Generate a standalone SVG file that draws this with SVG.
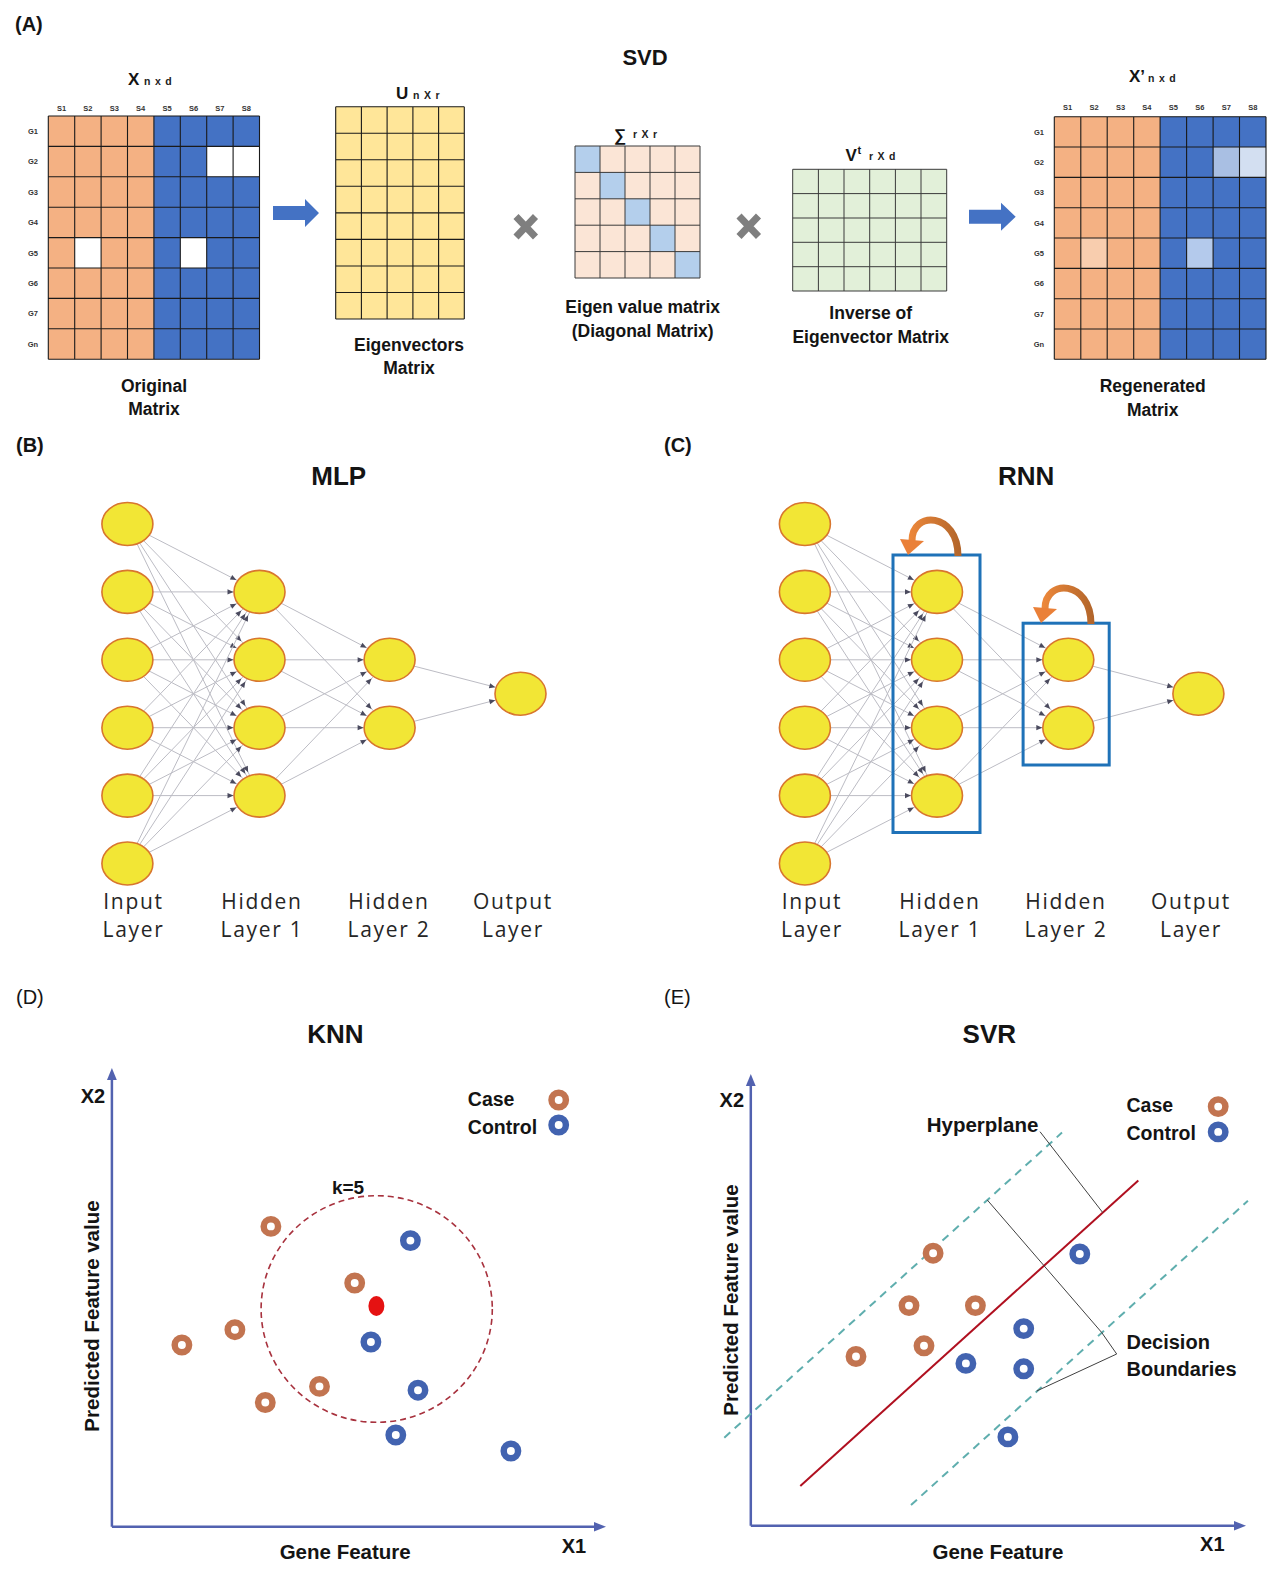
<svg xmlns="http://www.w3.org/2000/svg" width="1280" height="1581" viewBox="0 0 1280 1581">
<style>
.b{font-family:"Liberation Sans",Arial,sans-serif;font-weight:bold;fill:#141414}
.m{text-anchor:middle}
.t17{font-size:17.5px}
.tiny{font-family:"Liberation Sans",Arial,sans-serif;font-weight:bold;font-size:7.5px;fill:#333;text-anchor:middle}
.sub{font-family:"Liberation Sans",Arial,sans-serif;font-weight:bold;font-size:10.5px;fill:#222;letter-spacing:0.8px}
.layer{font-family:"Open Sans","Noto Sans",sans-serif;font-size:21px;letter-spacing:1.7px;fill:#262626;text-anchor:middle}
.grid{fill:none;stroke:#1a1a1a;stroke-width:1.1}
.grid2{fill:none;stroke:#3a3a3a;stroke-width:1}
.node{fill:#F2E635;stroke:#D8762E;stroke-width:1.6}
.edge{stroke:#BCBCC4;stroke-width:1;marker-end:url(#ah)}
.case{fill:#fff;stroke:#C27450;stroke-width:6.5}
.ctrl{fill:#fff;stroke:#4263B0;stroke-width:6.5}
.axis{stroke:#5262B0;stroke-width:2.5;fill:none}
.axh{fill:#5262B0}
.box{fill:none;stroke:#1F72B8;stroke-width:3}
.lead{stroke:#404040;stroke-width:1;fill:none}
.mult{stroke:#7F7F7F;stroke-width:7}
</style>
<defs>
<marker id="ah" markerUnits="userSpaceOnUse" orient="auto" overflow="visible" refX="0" refY="0" markerWidth="1" markerHeight="1">
<path d="M-32,-2.6 L-26,0 L-32,2.6 z" fill="#4a4a5e"/>
</marker>
<linearGradient id="og" gradientUnits="userSpaceOnUse" x1="905" y1="0" x2="962" y2="0">
<stop offset="0" stop-color="#F28B3C"/>
<stop offset="1" stop-color="#B0642A"/>
</linearGradient>
</defs>
<rect width="1280" height="1581" fill="#fff"/>

<!-- Panel A -->
<g id="panelA">
<text class="b" x="15" y="31" font-size="20">(A)</text>
<text class="b m" x="645" y="65" font-size="22">SVD</text>

<g id="matrixX">
<text class="b" x="128" y="85" font-size="17">X</text>
<text class="sub" x="144" y="85">n x d</text>
<rect x="48.3" y="116" width="105.6" height="243.2" fill="#F4B183"/>
<rect x="153.9" y="116" width="105.6" height="243.2" fill="#4472C4"/>
<rect x="206.7" y="146.4" width="52.8" height="30.4" fill="#fff"/>
<rect x="74.7" y="237.6" width="26.4" height="30.4" fill="#fff"/>
<rect x="180.3" y="237.6" width="26.4" height="30.4" fill="#fff"/>
<path class="grid" d="M48.3,116V359.2M74.7,116V359.2M101.1,116V359.2M127.5,116V359.2M153.9,116V359.2M180.3,116V359.2M206.7,116V359.2M233.1,116V359.2M259.5,116V359.2M48.3,116H259.5M48.3,146.4H259.5M48.3,176.8H259.5M48.3,207.2H259.5M48.3,237.6H259.5M48.3,268H259.5M48.3,298.4H259.5M48.3,328.8H259.5M48.3,359.2H259.5"/>
<g class="tiny">
<text x="61.5" y="111">S1</text><text x="87.9" y="111">S2</text><text x="114.3" y="111">S3</text><text x="140.7" y="111">S4</text><text x="167.1" y="111">S5</text><text x="193.5" y="111">S6</text><text x="219.9" y="111">S7</text><text x="246.3" y="111">S8</text>
<text x="33" y="133.9">G1</text><text x="33" y="164.3">G2</text><text x="33" y="194.7">G3</text><text x="33" y="225.1">G4</text><text x="33" y="255.5">G5</text><text x="33" y="285.9">G6</text><text x="33" y="316.3">G7</text><text x="33" y="346.7">Gn</text>
</g>
<text class="b m t17" x="154" y="392">Original</text>
<text class="b m t17" x="154" y="415">Matrix</text>
</g>

<g id="arrow1"><path d="M273,206H305V199L319,213L305,227V220H273Z" fill="#4472C4"/></g>

<g id="matrixU">
<text class="b" x="396" y="98.7" font-size="17">U</text>
<text class="sub" x="413" y="98.7">n X r</text>
<rect x="335.7" y="106.7" width="128.6" height="212.3" fill="#FFE699"/>
<path class="grid" d="M335.7,106.7V319M361.4,106.7V319M387.1,106.7V319M412.9,106.7V319M438.6,106.7V319M464.3,106.7V319M335.7,106.7H464.3M335.7,133.2H464.3M335.7,159.8H464.3M335.7,186.3H464.3M335.7,212.9H464.3M335.7,239.4H464.3M335.7,266H464.3M335.7,292.5H464.3M335.7,319H464.3"/>
<text class="b m t17" x="409" y="350.5">Eigenvectors</text>
<text class="b m t17" x="409" y="374">Matrix</text>
</g>

<g id="mult1"><path class="mult" d="M516,216.5L535.5,237M535.5,216.5L516,237"/></g>

<g id="matrixS">
<text class="b" x="614" y="141" font-size="17">∑</text>
<text class="sub" x="633" y="137.5">r X r</text>
<rect x="575" y="146" width="125" height="132" fill="#FBE5D6"/>
<rect x="575" y="146" width="25" height="26.4" fill="#B4CFEC"/>
<rect x="600" y="172.4" width="25" height="26.4" fill="#B4CFEC"/>
<rect x="625" y="198.8" width="25" height="26.4" fill="#B4CFEC"/>
<rect x="650" y="225.2" width="25" height="26.4" fill="#B4CFEC"/>
<rect x="675" y="251.6" width="25" height="26.4" fill="#B4CFEC"/>
<path class="grid2" d="M575,146V278M600,146V278M625,146V278M650,146V278M675,146V278M700,146V278M575,146H700M575,172.4H700M575,198.8H700M575,225.2H700M575,251.6H700M575,278H700"/>
<text class="b m t17" x="642.7" y="312.7">Eigen value matrix</text>
<text class="b m t17" x="642.7" y="336.7">(Diagonal Matrix)</text>
</g>

<g id="mult2"><path class="mult" d="M739,216L758.5,236.5M758.5,216L739,236.5"/></g>

<g id="matrixV">
<text class="b" x="845.5" y="161" font-size="17">V</text>
<text class="b" x="857.5" y="154" font-size="11">t</text>
<text class="sub" x="869" y="160">r X d</text>
<rect x="792.7" y="169.3" width="154" height="121.7" fill="#E2F0D9"/>
<path class="grid2" d="M792.7,169.3V291M818.4,169.3V291M844,169.3V291M869.7,169.3V291M895.4,169.3V291M921,169.3V291M946.7,169.3V291M792.7,169.3H946.7M792.7,193.6H946.7M792.7,218H946.7M792.7,242.3H946.7M792.7,266.7H946.7M792.7,291H946.7"/>
<text class="b m t17" x="870.7" y="319.3">Inverse of</text>
<text class="b m t17" x="870.7" y="343.3">Eigenvector Matrix</text>
</g>

<g id="arrow2"><path d="M969,209.7H1001V202.7L1015.7,216.7L1001,230.7V223.7H969Z" fill="#4472C4"/></g>

<g id="matrixXp">
<text class="b" x="1129" y="81.7" font-size="17">X’</text>
<text class="sub" x="1148" y="81.7">n x d</text>
<rect x="1054.3" y="116.7" width="105.8" height="242.6" fill="#F4B183"/>
<rect x="1160.1" y="116.7" width="105.9" height="242.6" fill="#4472C4"/>
<rect x="1213.1" y="147" width="26.4" height="30.4" fill="#A9BFE3"/>
<rect x="1239.5" y="147" width="26.5" height="30.4" fill="#D3DFF1"/>
<rect x="1080.8" y="238" width="26.4" height="30.4" fill="#F8CDAE"/>
<rect x="1186.6" y="238" width="26.5" height="30.4" fill="#B4CAEC"/>
<path class="grid" d="M1054.3,116.7V359.3M1080.8,116.7V359.3M1107.2,116.7V359.3M1133.7,116.7V359.3M1160.1,116.7V359.3M1186.6,116.7V359.3M1213.1,116.7V359.3M1239.5,116.7V359.3M1266,116.7V359.3M1054.3,116.7H1266M1054.3,147H1266M1054.3,177.4H1266M1054.3,207.7H1266M1054.3,238H1266M1054.3,268.4H1266M1054.3,298.7H1266M1054.3,329H1266M1054.3,359.3H1266"/>
<g class="tiny">
<text x="1067.5" y="110">S1</text><text x="1094" y="110">S2</text><text x="1120.5" y="110">S3</text><text x="1146.9" y="110">S4</text><text x="1173.4" y="110">S5</text><text x="1199.8" y="110">S6</text><text x="1226.3" y="110">S7</text><text x="1252.8" y="110">S8</text>
<text x="1039" y="134.6">G1</text><text x="1039" y="164.9">G2</text><text x="1039" y="195.2">G3</text><text x="1039" y="225.6">G4</text><text x="1039" y="255.9">G5</text><text x="1039" y="286.2">G6</text><text x="1039" y="316.6">G7</text><text x="1039" y="346.9">Gn</text>
</g>
<text class="b m t17" x="1152.7" y="392">Regenerated</text>
<text class="b m t17" x="1152.7" y="416">Matrix</text>
</g>
</g>

<!-- Panel B: MLP -->
<text class="b" x="16" y="452" font-size="20">(B)</text>
<text class="b m" x="338.7" y="485" font-size="26">MLP</text>
<g id="mlp-edges">
<line class="edge" x1="127.4" y1="524" x2="259.5" y2="591.9"/><line class="edge" x1="127.4" y1="524" x2="259.5" y2="659.8"/><line class="edge" x1="127.4" y1="524" x2="259.5" y2="727.7"/><line class="edge" x1="127.4" y1="524" x2="259.5" y2="795.6"/>
<line class="edge" x1="127.4" y1="591.9" x2="259.5" y2="591.9"/><line class="edge" x1="127.4" y1="591.9" x2="259.5" y2="659.8"/><line class="edge" x1="127.4" y1="591.9" x2="259.5" y2="727.7"/><line class="edge" x1="127.4" y1="591.9" x2="259.5" y2="795.6"/>
<line class="edge" x1="127.4" y1="659.8" x2="259.5" y2="591.9"/><line class="edge" x1="127.4" y1="659.8" x2="259.5" y2="659.8"/><line class="edge" x1="127.4" y1="659.8" x2="259.5" y2="727.7"/><line class="edge" x1="127.4" y1="659.8" x2="259.5" y2="795.6"/>
<line class="edge" x1="127.4" y1="727.7" x2="259.5" y2="591.9"/><line class="edge" x1="127.4" y1="727.7" x2="259.5" y2="659.8"/><line class="edge" x1="127.4" y1="727.7" x2="259.5" y2="727.7"/><line class="edge" x1="127.4" y1="727.7" x2="259.5" y2="795.6"/>
<line class="edge" x1="127.4" y1="795.6" x2="259.5" y2="591.9"/><line class="edge" x1="127.4" y1="795.6" x2="259.5" y2="659.8"/><line class="edge" x1="127.4" y1="795.6" x2="259.5" y2="727.7"/><line class="edge" x1="127.4" y1="795.6" x2="259.5" y2="795.6"/>
<line class="edge" x1="127.4" y1="863.5" x2="259.5" y2="591.9"/><line class="edge" x1="127.4" y1="863.5" x2="259.5" y2="659.8"/><line class="edge" x1="127.4" y1="863.5" x2="259.5" y2="727.7"/><line class="edge" x1="127.4" y1="863.5" x2="259.5" y2="795.6"/>
<line class="edge" x1="259.5" y1="591.9" x2="389.6" y2="659.8"/><line class="edge" x1="259.5" y1="591.9" x2="389.6" y2="727.7"/>
<line class="edge" x1="259.5" y1="659.8" x2="389.6" y2="659.8"/><line class="edge" x1="259.5" y1="659.8" x2="389.6" y2="727.7"/>
<line class="edge" x1="259.5" y1="727.7" x2="389.6" y2="659.8"/><line class="edge" x1="259.5" y1="727.7" x2="389.6" y2="727.7"/>
<line class="edge" x1="259.5" y1="795.6" x2="389.6" y2="659.8"/><line class="edge" x1="259.5" y1="795.6" x2="389.6" y2="727.7"/>
<line class="edge" x1="389.6" y1="659.8" x2="520.5" y2="693.7"/><line class="edge" x1="389.6" y1="727.7" x2="520.5" y2="693.7"/>
</g>
<g id="mlp-in1"><ellipse class="node" cx="127.4" cy="524" rx="25.5" ry="21.5"/></g>
<g id="mlp-in2"><ellipse class="node" cx="127.4" cy="591.9" rx="25.5" ry="21.5"/></g>
<g id="mlp-in3"><ellipse class="node" cx="127.4" cy="659.8" rx="25.5" ry="21.5"/></g>
<g id="mlp-in4"><ellipse class="node" cx="127.4" cy="727.7" rx="25.5" ry="21.5"/></g>
<g id="mlp-in5"><ellipse class="node" cx="127.4" cy="795.6" rx="25.5" ry="21.5"/></g>
<g id="mlp-in6"><ellipse class="node" cx="127.4" cy="863.5" rx="25.5" ry="21.5"/></g>
<g id="mlp-h1a"><ellipse class="node" cx="259.5" cy="591.9" rx="25.5" ry="21.5"/></g>
<g id="mlp-h1b"><ellipse class="node" cx="259.5" cy="659.8" rx="25.5" ry="21.5"/></g>
<g id="mlp-h1c"><ellipse class="node" cx="259.5" cy="727.7" rx="25.5" ry="21.5"/></g>
<g id="mlp-h1d"><ellipse class="node" cx="259.5" cy="795.6" rx="25.5" ry="21.5"/></g>
<g id="mlp-h2a"><ellipse class="node" cx="389.6" cy="659.8" rx="25.5" ry="21.5"/></g>
<g id="mlp-h2b"><ellipse class="node" cx="389.6" cy="727.7" rx="25.5" ry="21.5"/></g>
<g id="mlp-out"><ellipse class="node" cx="520.5" cy="693.7" rx="25.5" ry="21.5"/></g>
<g id="mlp-labels" class="layer">
<text x="133.5" y="908.5">Input</text><text x="133.5" y="936.5">Layer</text>
<text x="262" y="908.5">Hidden</text><text x="262" y="936.5">Layer 1</text>
<text x="389" y="908.5">Hidden</text><text x="389" y="936.5">Layer 2</text>
<text x="513" y="908.5">Output</text><text x="513" y="936.5">Layer</text>
</g>

<!-- Panel C: RNN -->
<text class="b" x="664" y="452" font-size="20">(C)</text>
<text class="b m" x="1026.2" y="485" font-size="26">RNN</text>
<g id="rnn-edges" transform="translate(677.5,0)">
<line class="edge" x1="127.4" y1="524" x2="259.5" y2="591.9"/><line class="edge" x1="127.4" y1="524" x2="259.5" y2="659.8"/><line class="edge" x1="127.4" y1="524" x2="259.5" y2="727.7"/><line class="edge" x1="127.4" y1="524" x2="259.5" y2="795.6"/>
<line class="edge" x1="127.4" y1="591.9" x2="259.5" y2="591.9"/><line class="edge" x1="127.4" y1="591.9" x2="259.5" y2="659.8"/><line class="edge" x1="127.4" y1="591.9" x2="259.5" y2="727.7"/><line class="edge" x1="127.4" y1="591.9" x2="259.5" y2="795.6"/>
<line class="edge" x1="127.4" y1="659.8" x2="259.5" y2="591.9"/><line class="edge" x1="127.4" y1="659.8" x2="259.5" y2="659.8"/><line class="edge" x1="127.4" y1="659.8" x2="259.5" y2="727.7"/><line class="edge" x1="127.4" y1="659.8" x2="259.5" y2="795.6"/>
<line class="edge" x1="127.4" y1="727.7" x2="259.5" y2="591.9"/><line class="edge" x1="127.4" y1="727.7" x2="259.5" y2="659.8"/><line class="edge" x1="127.4" y1="727.7" x2="259.5" y2="727.7"/><line class="edge" x1="127.4" y1="727.7" x2="259.5" y2="795.6"/>
<line class="edge" x1="127.4" y1="795.6" x2="259.5" y2="591.9"/><line class="edge" x1="127.4" y1="795.6" x2="259.5" y2="659.8"/><line class="edge" x1="127.4" y1="795.6" x2="259.5" y2="727.7"/><line class="edge" x1="127.4" y1="795.6" x2="259.5" y2="795.6"/>
<line class="edge" x1="127.4" y1="863.5" x2="259.5" y2="591.9"/><line class="edge" x1="127.4" y1="863.5" x2="259.5" y2="659.8"/><line class="edge" x1="127.4" y1="863.5" x2="259.5" y2="727.7"/><line class="edge" x1="127.4" y1="863.5" x2="259.5" y2="795.6"/>
<line class="edge" x1="259.5" y1="591.9" x2="390.8" y2="659.8"/><line class="edge" x1="259.5" y1="591.9" x2="390.8" y2="727.7"/>
<line class="edge" x1="259.5" y1="659.8" x2="390.8" y2="659.8"/><line class="edge" x1="259.5" y1="659.8" x2="390.8" y2="727.7"/>
<line class="edge" x1="259.5" y1="727.7" x2="390.8" y2="659.8"/><line class="edge" x1="259.5" y1="727.7" x2="390.8" y2="727.7"/>
<line class="edge" x1="259.5" y1="795.6" x2="390.8" y2="659.8"/><line class="edge" x1="259.5" y1="795.6" x2="390.8" y2="727.7"/>
<line class="edge" x1="390.8" y1="659.8" x2="520.9" y2="693.7"/><line class="edge" x1="390.8" y1="727.7" x2="520.9" y2="693.7"/>
</g>
<g id="rnn-box1"><rect class="box" x="893" y="555" width="87" height="277.5"/></g>
<g id="rnn-box2"><rect class="box" x="1023.1" y="623.2" width="86.1" height="141.8"/></g>
<g id="rnn-loop1">
<path d="M958,556 C958,512 912,510 912,541" fill="none" stroke="url(#og)" stroke-width="7"/>
<polygon points="900,539 924,541 908,555" fill="#EA8038"/>
</g>
<g id="rnn-loop2" transform="translate(133,68)">
<path d="M958,556 C958,512 912,510 912,541" fill="none" stroke="url(#og)" stroke-width="7"/>
<polygon points="900,539 924,541 908,555" fill="#EA8038"/>
</g>
<g id="rnn-in1"><ellipse class="node" cx="804.9" cy="524" rx="25.5" ry="21.5"/></g>
<g id="rnn-in2"><ellipse class="node" cx="804.9" cy="591.9" rx="25.5" ry="21.5"/></g>
<g id="rnn-in3"><ellipse class="node" cx="804.9" cy="659.8" rx="25.5" ry="21.5"/></g>
<g id="rnn-in4"><ellipse class="node" cx="804.9" cy="727.7" rx="25.5" ry="21.5"/></g>
<g id="rnn-in5"><ellipse class="node" cx="804.9" cy="795.6" rx="25.5" ry="21.5"/></g>
<g id="rnn-in6"><ellipse class="node" cx="804.9" cy="863.5" rx="25.5" ry="21.5"/></g>
<g id="rnn-h1a"><ellipse class="node" cx="937" cy="591.9" rx="25.5" ry="21.5"/></g>
<g id="rnn-h1b"><ellipse class="node" cx="937" cy="659.8" rx="25.5" ry="21.5"/></g>
<g id="rnn-h1c"><ellipse class="node" cx="937" cy="727.7" rx="25.5" ry="21.5"/></g>
<g id="rnn-h1d"><ellipse class="node" cx="937" cy="795.6" rx="25.5" ry="21.5"/></g>
<g id="rnn-h2a"><ellipse class="node" cx="1068.3" cy="659.8" rx="25.5" ry="21.5"/></g>
<g id="rnn-h2b"><ellipse class="node" cx="1068.3" cy="727.7" rx="25.5" ry="21.5"/></g>
<g id="rnn-out"><ellipse class="node" cx="1198.4" cy="693.7" rx="25.5" ry="21.5"/></g>
<g id="rnn-labels" class="layer">
<text x="812" y="908.5">Input</text><text x="812" y="936.5">Layer</text>
<text x="940" y="908.5">Hidden</text><text x="940" y="936.5">Layer 1</text>
<text x="1066" y="908.5">Hidden</text><text x="1066" y="936.5">Layer 2</text>
<text x="1191" y="908.5">Output</text><text x="1191" y="936.5">Layer</text>
</g>

<!-- Panel D: KNN -->
<g id="panelD">
<text x="16" y="1004" font-size="20" font-family="Liberation Sans, Arial, sans-serif" fill="#141414">(D)</text>
<text class="b m" x="335.3" y="1042.7" font-size="26">KNN</text>
<path class="axis" d="M111.9,1526.8V1078M111.9,1526.8H597"/>
<polygon class="axh" points="111.9,1068 107,1080 116.8,1080"/>
<polygon class="axh" points="606,1526.8 594,1522 594,1531.6"/>
<text class="b m" x="92.9" y="1103" font-size="20">X2</text>
<text class="b m" x="574" y="1553" font-size="20">X1</text>
<text class="b m" x="345.2" y="1559" font-size="20.5">Gene Feature</text>
<text class="b m" transform="translate(98.5,1316) rotate(-90)" font-size="20.5">Predicted Feature value</text>
<text class="b" x="467.8" y="1106" font-size="19.5">Case</text>
<text class="b" x="467.8" y="1134" font-size="19.5">Control</text>
<circle class="case" cx="558.7" cy="1100" r="7.2"/>
<circle class="ctrl" cx="558.7" cy="1125" r="7.2"/>
<ellipse cx="376.7" cy="1309" rx="115.6" ry="113.3" fill="none" stroke="#A8323E" stroke-width="1.6" stroke-dasharray="6 4"/>
<text class="b m" x="348" y="1194" font-size="19">k=5</text>
<circle class="case" cx="270.9" cy="1226.4" r="7.2"/>
<circle class="case" cx="354.7" cy="1283" r="7.2"/>
<circle class="case" cx="234.9" cy="1329.7" r="7.2"/>
<circle class="case" cx="181.9" cy="1345" r="7.2"/>
<circle class="case" cx="319.5" cy="1386.4" r="7.2"/>
<circle class="case" cx="265.3" cy="1402.5" r="7.2"/>
<circle class="ctrl" cx="410.4" cy="1240.6" r="7.2"/>
<circle class="ctrl" cx="370.9" cy="1342" r="7.2"/>
<circle class="ctrl" cx="418" cy="1390.2" r="7.2"/>
<circle class="ctrl" cx="395.8" cy="1435" r="7.2"/>
<circle class="ctrl" cx="510.9" cy="1451" r="7.2"/>
<ellipse cx="376.4" cy="1306" rx="8" ry="10" fill="#E51212"/>
</g>

<!-- Panel E: SVR -->
<g id="panelE">
<text x="664" y="1004" font-size="20" font-family="Liberation Sans, Arial, sans-serif" fill="#141414">(E)</text>
<text class="b m" x="989.3" y="1042.7" font-size="26">SVR</text>
<path class="axis" d="M750.8,1525.7V1084M750.8,1525.7H1237"/>
<polygon class="axh" points="750.8,1074 745.9,1086 755.7,1086"/>
<polygon class="axh" points="1246,1525.7 1234,1520.9 1234,1530.5"/>
<text class="b m" x="731.8" y="1107" font-size="20">X2</text>
<text class="b m" x="1212.3" y="1551" font-size="20">X1</text>
<text class="b m" x="998" y="1558.6" font-size="20.5">Gene Feature</text>
<text class="b m" transform="translate(737.5,1300) rotate(-90)" font-size="20.5">Predicted Feature value</text>
<text class="b" x="1126.5" y="1111.6" font-size="19.5">Case</text>
<text class="b" x="1126.5" y="1140.3" font-size="19.5">Control</text>
<circle class="case" cx="1218.2" cy="1106.6" r="7.2"/>
<circle class="ctrl" cx="1218.2" cy="1131.9" r="7.2"/>
<line x1="724.3" y1="1437.7" x2="1062" y2="1132.6" stroke="#5FAEAE" stroke-width="2" stroke-dasharray="8 6"/>
<line x1="911" y1="1505" x2="1247.9" y2="1200.8" stroke="#5FAEAE" stroke-width="2" stroke-dasharray="8 6"/>
<line x1="800.3" y1="1485.9" x2="1138.3" y2="1180.5" stroke="#B01020" stroke-width="2"/>
<path class="lead" d="M1040,1131.7L1102.7,1212.5M987.3,1200L1101.7,1332.5L1116.7,1354L1036.7,1391"/>
<text class="b" x="926.7" y="1131.7" font-size="20.5">Hyperplane</text>
<text class="b" x="1126.5" y="1348.9" font-size="20">Decision</text>
<text class="b" x="1126.5" y="1376.4" font-size="20">Boundaries</text>
<circle class="case" cx="933.1" cy="1253.2" r="7.2"/>
<circle class="case" cx="909" cy="1305.6" r="7.2"/>
<circle class="case" cx="975.4" cy="1305.6" r="7.2"/>
<circle class="case" cx="924" cy="1345.8" r="7.2"/>
<circle class="case" cx="856" cy="1356.5" r="7.2"/>
<circle class="ctrl" cx="1079.8" cy="1254" r="7.2"/>
<circle class="ctrl" cx="1023.7" cy="1328.6" r="7.2"/>
<circle class="ctrl" cx="965.9" cy="1363.4" r="7.2"/>
<circle class="ctrl" cx="1023.7" cy="1368.8" r="7.2"/>
<circle class="ctrl" cx="1007.9" cy="1436.9" r="7.2"/>
</g>
</svg>
